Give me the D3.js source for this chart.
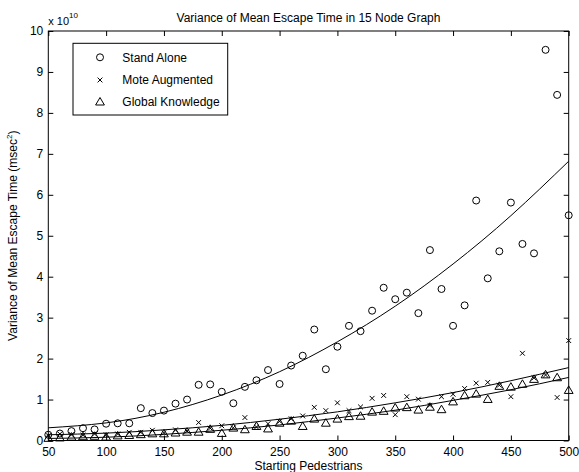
<!DOCTYPE html>
<html><head><meta charset="utf-8">
<script src="https://cdn.jsdelivr.net/npm/d3@7"></script>
<style>
html,body{margin:0;padding:0;background:#fff;}
svg text{font-family:"Liberation Sans",Arial,Helvetica,sans-serif;fill:#000;}
</style></head>
<body>
<svg id="chart" width="579" height="472"></svg>
<script>
// Data (values in units of 1e10 msec^2)
const pedestrians = d3.range(50, 501, 10);
const standAlone = [0.14,0.17,0.23,0.30,0.27,0.41,0.42,0.42,0.79,0.67,0.73,0.90,1.00,1.36,1.37,1.19,0.91,1.31,1.47,1.72,1.38,1.83,2.07,2.71,1.74,2.29,2.80,2.67,3.17,3.73,3.45,3.61,3.11,4.65,3.70,2.80,3.30,5.86,3.96,4.62,5.81,4.80,4.57,9.54,8.44,5.50];
const moteAugmented = [0.12,0.16,0.14,0.13,0.16,0.14,0.16,0.20,0.20,0.25,0.19,0.26,0.23,0.44,0.30,0.36,0.31,0.56,0.33,0.41,0.47,0.53,0.60,0.81,0.73,0.92,0.73,0.82,1.03,1.10,0.63,1.07,1.01,0.86,1.07,1.13,1.27,1.40,1.42,1.35,1.07,2.13,1.53,1.60,1.05,2.44];
const globalKnowledge = [0.06,0.07,0.09,0.10,0.11,0.09,0.12,0.13,0.15,0.17,0.17,0.19,0.21,0.21,0.28,0.18,0.31,0.27,0.35,0.29,0.43,0.48,0.35,0.53,0.43,0.53,0.59,0.60,0.70,0.72,0.80,0.81,0.75,0.82,0.76,0.95,1.10,1.14,1.01,1.33,1.31,1.38,1.50,1.61,1.54,1.23];
// Fitted trend curves, read at x = 50,100,...,500
const fitX = [50,100,150,200,250,300,350,400,450,500];
const fitStandAlone = [0.31,0.43,0.69,1.11,1.68,2.41,3.28,4.31,5.49,6.82];
const fitMote = [0.14,0.18,0.26,0.37,0.52,0.70,0.92,1.17,1.46,1.78];
const fitGlobal = [0.05,0.08,0.15,0.25,0.38,0.55,0.74,0.98,1.24,1.54];
const xTicks = [50,100,150,200,250,300,350,400,450,500];
const yTicks = [0,1,2,3,4,5,6,7,8,9,10];
const seriesNames = ["Stand Alone","Mote Augmented","Global Knowledge"];

const svg = d3.select("#chart");
const L = 48.3, R = 568.7, T = 31, B = 440.5;
const x = d3.scaleLinear().domain([50,500]).range([L,R]);
const y = d3.scaleLinear().domain([0,10]).range([B,T]);
const font = 12;

// Box
svg.append("rect").attr("x",L).attr("y",T).attr("width",R-L).attr("height",B-T)
  .attr("fill","none").attr("stroke","#000").attr("stroke-width",1);

// Axes with inward ticks
const tl = 5;
const gx = svg.append("g").attr("transform",`translate(0,${B})`)
  .call(d3.axisBottom(x).tickValues(xTicks).tickSizeInner(-tl).tickSizeOuter(0).tickPadding(6.5));
const gxt = svg.append("g").attr("transform",`translate(0,${T})`)
  .call(d3.axisTop(x).tickValues(xTicks).tickSizeInner(-tl).tickSizeOuter(0).tickFormat(""));
const gy = svg.append("g").attr("transform",`translate(${L},0)`)
  .call(d3.axisLeft(y).tickValues(yTicks).tickSizeInner(-tl).tickSizeOuter(0).tickPadding(5));
const gyr = svg.append("g").attr("transform",`translate(${R},0)`)
  .call(d3.axisRight(y).tickValues(yTicks).tickSizeInner(-tl).tickSizeOuter(0).tickFormat(""));
[gx,gxt,gy,gyr].forEach(g=>{
  g.select(".domain").remove();
  g.selectAll("line").attr("stroke","#000");
  g.selectAll("text").attr("font-size",font).attr("font-family","Liberation Sans, Arial, sans-serif").attr("fill","#000");
});

// Exponent label
const ex = svg.append("text").attr("x",L).attr("y",24.5).attr("font-size",11);
ex.append("tspan").text("x 10");
ex.append("tspan").attr("font-size",8).attr("dy",-7).text("10");

// Title
svg.append("text").attr("x",(L+R)/2).attr("y",21.5).attr("text-anchor","middle")
  .attr("font-size",font).text("Variance of Mean Escape Time in 15 Node Graph");
// X label
svg.append("text").attr("x",(L+R)/2).attr("y",469.5).attr("text-anchor","middle")
  .attr("font-size",font).text("Starting Pedestrians");
// Y label
const yl = svg.append("text").attr("transform",`translate(17,${(T+B)/2}) rotate(-90)`)
  .attr("text-anchor","middle").attr("font-size",font);
yl.append("tspan").text("Variance of Mean Escape Time (msec");
yl.append("tspan").attr("font-size",8).attr("dy",-5).text("2");
yl.append("tspan").attr("dy",5).text(")");

// Fit lines
const line = d3.line().x(d=>x(d[0])).y(d=>y(d[1])).curve(d3.curveNatural);
[fitStandAlone, fitMote, fitGlobal].forEach(f=>{
  svg.append("path").datum(fitX.map((v,i)=>[v,f[i]])).attr("d",line)
    .attr("fill","none").attr("stroke","#000").attr("stroke-width",1);
});

// Marker drawers
function circle(g,cx,cy){ g.append("circle").attr("cx",cx).attr("cy",cy).attr("r",3.5).attr("fill","none").attr("stroke","#000"); }
function cross(g,cx,cy){ const s=2.4; g.append("path").attr("d",`M${cx-s},${cy-s}L${cx+s},${cy+s}M${cx-s},${cy+s}L${cx+s},${cy-s}`).attr("stroke","#000").attr("fill","none"); }
function tri(g,cx,cy){ g.append("path").attr("d",`M${cx},${cy-4.2}L${cx+4.4},${cy+3.3}L${cx-4.4},${cy+3.3}Z`).attr("stroke","#000").attr("fill","none"); }
const drawers = [circle, cross, tri];
const series = [standAlone, moteAugmented, globalKnowledge];
const gm = svg.append("g");
series.forEach((s,si)=>{
  s.forEach((v,i)=>drawers[si](gm, x(pedestrians[i]), y(v)));
});

// Legend
const lg = svg.append("g");
lg.append("rect").attr("x",73).attr("y",43.3).attr("width",154.7).attr("height",71.7)
  .attr("fill","#fff").attr("stroke","#000");
const rowY = [57.3, 80, 101.7];
seriesNames.forEach((n,i)=>{
  drawers[i](lg, 100, rowY[i]);
  lg.append("text").attr("x",122.3).attr("y",rowY[i]+4.3).attr("font-size",font).text(n);
});
</script>
</body></html>
